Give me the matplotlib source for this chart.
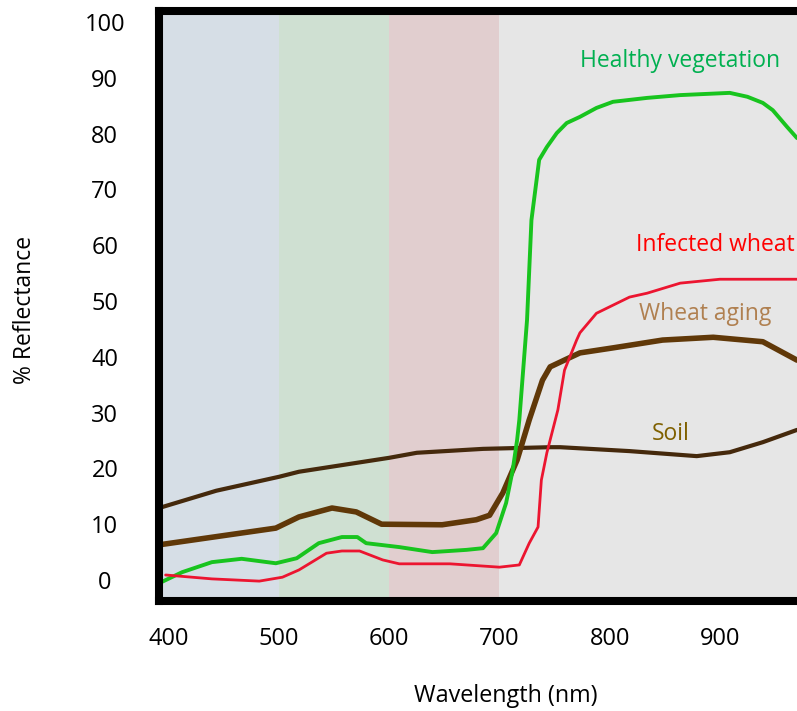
import matplotlib.pyplot as plt

plt.rcParams['font.family'] = ['Open Sans', 'DejaVu Sans']

# spectral reflectance curves
soil_x = [391, 443, 500, 518, 600, 625, 685, 746, 755, 818, 879, 909, 939, 970]
soil_y = [12.9, 16.0, 18.5, 19.4, 21.9, 22.8, 23.5, 23.8, 23.8, 23.1, 22.2, 22.9, 24.7, 26.9]

aging_x = [391, 497, 518, 548, 570, 593, 648, 679, 691, 703, 716, 727, 739, 746, 761, 773, 803, 848, 894, 939, 970]
aging_y = [6.3, 9.3, 11.3, 12.9, 12.2, 10.0, 9.9, 10.8, 11.6, 15.6, 21.5, 28.7, 35.8, 38.2, 39.6, 40.7, 41.6, 43.0,
           43.5, 42.7, 39.4]

healthy_x = [393, 412, 439, 466, 497, 516, 536, 557, 571, 579, 609, 639, 670, 685, 697, 706, 712, 716,
             718, 725, 729, 734, 736, 743, 752, 761, 773, 788, 803, 834, 864, 909, 925, 939, 948, 961, 970]
healthy_y = [-0.4, 1.4, 3.2, 3.8, 3.0, 3.9, 6.6, 7.7, 7.7, 6.6, 5.9, 5.0, 5.4, 5.7, 8.4, 13.8, 19.7, 25.1,
             28.7, 46.6, 64.5, 72.2, 75.3, 77.6, 80.1, 81.9, 83.0, 84.6, 85.7, 86.4, 86.9, 87.3, 86.6, 85.5,
             84.2, 81.2, 79.2]

infected_x = [397, 439, 482, 503, 518, 543, 557, 573, 594, 609, 655, 700, 718, 727, 735, 738, 743, 753,
              759, 770, 773, 788, 818, 834, 864, 900, 970]
infected_y = [0.9, 0.2, -0.2, 0.5, 1.8, 4.8, 5.2, 5.2, 3.6, 2.9, 2.9, 2.3, 2.7, 6.6, 9.5, 17.9, 22.8, 30.5,
              37.6, 43.0, 44.3, 47.8, 50.7, 51.4, 53.2, 53.9, 53.9]

band_edges = [391, 500, 600, 700, 970]
band_colors = ["#d6dee6", "#cfe0d2", "#e1cecf", "#e6e6e6"]

xticks = [400, 500, 600, 700, 800, 900]
yticks = [0, 10, 20, 30, 40, 50, 60, 70, 80, 90, 100]

fig = plt.figure(figsize=(7.97, 7.11), dpi=100)
ax = fig.add_axes([159/797, 1-601/711, 1-159/797, 590/711])

for i, c in enumerate(band_colors):
    ax.axvspan(band_edges[i], band_edges[i+1], color=c, lw=0, zorder=0)

ax.plot(soil_x, soil_y, color="#45290c", lw=3, solid_capstyle="round", zorder=2)
ax.plot(aging_x, aging_y, color="#603808", lw=4, solid_capstyle="round", zorder=2)
ax.plot(healthy_x, healthy_y, color="#18c41e", lw=2.8, solid_capstyle="round", zorder=3)
ax.plot(infected_x, infected_y, color="#ec1530", lw=2, solid_capstyle="round", zorder=3)

ax.text(864, 93, "Healthy vegetation", color="#00b050", fontsize=16.5, ha="center", va="center")
ax.text(824, 60, "Infected wheat", color="#ff0000", fontsize=16.5, ha="left", va="center")
ax.text(887, 47.7, "Wheat aging", color="#b08050", fontsize=16.5, ha="center", va="center")
ax.text(855, 26.2, "Soil", color="#7f6000", fontsize=16.5, ha="center", va="center")

ax.set_xlim(391, 970)
ax.set_ylim((580-601)/5.58, (580-11)/5.58)
ax.set_xticks(xticks)
ax.set_xticklabels([str(v) for v in xticks], fontsize=17)
ax.set_yticks(yticks)
ax.set_yticklabels([str(v) for v in yticks], fontsize=17)
ax.tick_params(axis="x", length=0, pad=19)
ax.tick_params(axis="y", length=0, pad=39)
for lab in ax.get_yticklabels():
    lab.set_horizontalalignment("center")

for s in ["left", "top", "bottom"]:
    ax.spines[s].set_linewidth(5.8)
    ax.spines[s].set_zorder(5)
ax.spines["right"].set_visible(False)

fig.text(506/797, 1-696/711, "Wavelength (nm)", fontsize=16.8, ha="center", va="center")
fig.text(25/797, 1-310/711, "% Reflectance", fontsize=16.5, ha="center", va="center", rotation=90)

fig.savefig("out.png", dpi=100)
